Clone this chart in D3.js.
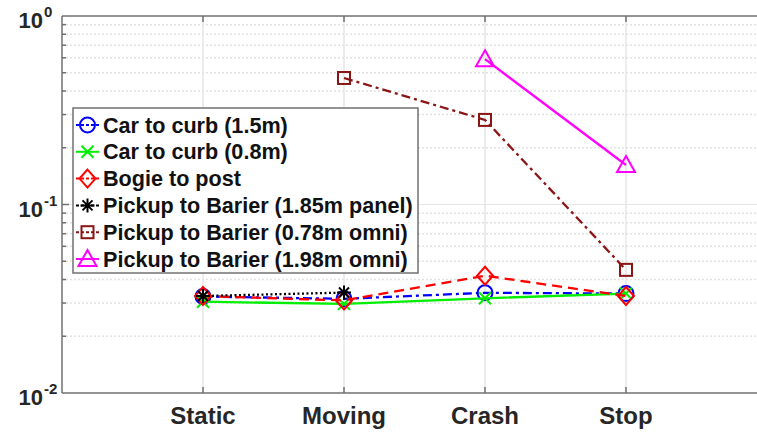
<!DOCTYPE html>
<html>
<head>
<meta charset="utf-8">
<script src="https://cdn.jsdelivr.net/npm/d3@7"></script>
<style>
  body { margin: 0; background: #fff; }
  svg { display: block; font-family: "Liberation Sans", Arial, sans-serif; }
</style>
</head>
<body>
<svg width="757" height="433"></svg>
<script>
// categories on the x axis
const categories = ["Static", "Moving", "Crash", "Stop"]

// series values (null = not measured)
const carCurb15  = [0.0325, 0.0316, 0.0340, 0.0337]
const carCurb08  = [0.0305, 0.0297, 0.0318, 0.0337]
const bogiePost  = [0.0327, 0.0310, 0.0419, 0.0327]
const pickup185  = [0.0327, 0.0341, null, null]
const pickup078  = [null, 0.469, 0.281, 0.045]
const pickup198  = [null, null, 0.59, 0.162]

const seriesNames = [
  "Car to curb (1.5m)",
  "Car to curb (0.8m)",
  "Bogie to post",
  "Pickup to Barier (1.85m panel)",
  "Pickup to Barier (0.78m omni)",
  "Pickup to Barier (1.98m omni)"
]

const yTickExp = [0, -1, -2]

const series = [
  {name: seriesNames[0], values: carCurb15, color: "#0000ff", dash: "9,4,3,4", marker: "circle"},
  {name: seriesNames[1], values: carCurb08, color: "#00ee00", dash: null, marker: "x"},
  {name: seriesNames[2], values: bogiePost, color: "#ff0000", dash: "10,6", marker: "diamond"},
  {name: seriesNames[3], values: pickup185, color: "#000000", dash: "2,2.5", marker: "star"},
  {name: seriesNames[4], values: pickup078, color: "#8b1515", dash: "9,4,3,4", marker: "square"},
  {name: seriesNames[5], values: pickup198, color: "#ff00ff", dash: null, marker: "triangle"}
]

const svg = d3.select("svg")
const plotLeft = 62, plotTop = 16, plotBottom = 393

const x = d3.scaleLinear().domain([0, 5]).range([plotLeft, plotLeft + 5 * 141])
const y = d3.scaleLog().domain([0.01, 1]).range([plotBottom, plotTop])

// grid
const grid = svg.append("g")
const minor = []
for (let e = -2; e < 0; e++) {
  for (let m = 2; m <= 9; m++) minor.push(m * Math.pow(10, e))
}
grid.selectAll(".ymin").data(minor).enter().append("line")
  .attr("x1", plotLeft).attr("x2", 757)
  .attr("y1", d => y(d)).attr("y2", d => y(d))
  .attr("stroke", "#e2e2e2").attr("stroke-width", 1.5).attr("stroke-dasharray", "2,2")
grid.selectAll(".ymaj").data([0.1]).enter().append("line")
  .attr("x1", plotLeft).attr("x2", 757)
  .attr("y1", d => y(d)).attr("y2", d => y(d))
  .attr("stroke", "#e6e6e6").attr("stroke-width", 1.2)
grid.selectAll(".xmaj").data(categories).enter().append("line")
  .attr("x1", (d, i) => x(i + 1)).attr("x2", (d, i) => x(i + 1))
  .attr("y1", plotTop).attr("y2", plotBottom)
  .attr("stroke", "#e6e6e6").attr("stroke-width", 1.5)

// axes frame and ticks
const axisColor = "#707070"
const ax = svg.append("g").attr("stroke", axisColor).attr("stroke-width", 1.5)
ax.append("line").attr("x1", plotLeft).attr("x2", 757).attr("y1", plotBottom).attr("y2", plotBottom)
ax.append("line").attr("x1", plotLeft).attr("x2", 757).attr("y1", plotTop).attr("y2", plotTop)
ax.append("line").attr("x1", plotLeft).attr("x2", plotLeft).attr("y1", plotTop).attr("y2", plotBottom)

categories.forEach((c, i) => {
  ax.append("line").attr("x1", x(i + 1)).attr("x2", x(i + 1)).attr("y1", plotBottom).attr("y2", plotBottom - 6)
  ax.append("line").attr("x1", x(i + 1)).attr("x2", x(i + 1)).attr("y1", plotTop).attr("y2", plotTop + 6)
})
minor.concat([0.1]).forEach(v => {
  const len = v === 0.1 ? 7 : 4
  ax.append("line").attr("x1", plotLeft).attr("x2", plotLeft + len).attr("y1", y(v)).attr("y2", y(v))
})

// x tick labels
svg.selectAll(".xl").data(categories).enter().append("text")
  .attr("x", (d, i) => x(i + 1)).attr("y", 424)
  .attr("text-anchor", "middle").attr("font-size", 24).attr("font-weight", "bold")
  .attr("fill", "#262626").text(d => d)

// y tick labels 10^e
yTickExp.forEach(e => {
  svg.append("text")
    .attr("x", 43).attr("y", y(Math.pow(10, e)) + 12)
    .attr("text-anchor", "end").attr("font-size", 22).attr("font-weight", "bold")
    .attr("fill", "#262626").text("10")
  svg.append("text")
    .attr("x", 44).attr("y", y(Math.pow(10, e)) + 1)
    .attr("font-size", 15).attr("font-weight", "bold").attr("fill", "#262626")
    .text(e === 0 ? "0" : "-" + (-e))
})

// marker drawing
function drawMarker(g, type, cx, cy, color) {
  const m = g.append("g").attr("transform", `translate(${cx},${cy})`)
    .attr("fill", "none").attr("stroke", color).attr("stroke-width", 2)
  if (type === "circle") m.append("circle").attr("r", 7.5)
  if (type === "square") m.append("rect").attr("x", -6).attr("y", -6).attr("width", 12).attr("height", 12)
  if (type === "diamond") m.append("path").attr("d", "M0,-9L8,0L0,9L-8,0Z")
  if (type === "triangle") m.append("path").attr("d", "M0,-9L9,7L-9,7Z")
  if (type === "x") m.append("path").attr("d", "M-6,-6L6,6M-6,6L6,-6")
  if (type === "star") m.append("path").attr("d", "M-7,0L7,0M0,-7L0,7M-5,-5L5,5M-5,5L5,-5")
}

// lines
const line = d3.line()
  .defined(d => d.v !== null)
  .x(d => x(d.i + 1))
  .y(d => y(d.v))

const plot = svg.append("g")
series.forEach(s => {
  const pts = s.values.map((v, i) => ({v, i}))
  plot.append("path").datum(pts)
    .attr("d", line)
    .attr("fill", "none").attr("stroke", s.color).attr("stroke-width", 2.3)
    .attr("stroke-dasharray", s.dash)
  pts.filter(p => p.v !== null).forEach(p => drawMarker(plot, s.marker, x(p.i + 1), y(p.v), s.color))
})

// legend
const lg = svg.append("g")
lg.append("rect").attr("x", 73).attr("y", 108).attr("width", 345).attr("height", 165)
  .attr("fill", "#fff").attr("stroke", axisColor).attr("stroke-width", 1.5)
series.forEach((s, i) => {
  const cy = 125 + i * 26.8
  lg.append("line").attr("x1", 76).attr("x2", 99).attr("y1", cy).attr("y2", cy)
    .attr("stroke", s.color).attr("stroke-width", 2).attr("stroke-dasharray", s.dash ? "3,2" : null)
  drawMarker(lg, s.marker, 87.5, cy, s.color)
  lg.append("text").attr("x", 103).attr("y", cy + 7.5)
    .attr("font-size", 21.6).attr("font-weight", "bold").attr("fill", "#111")
    .text(s.name)
})
</script>
</body>
</html>
